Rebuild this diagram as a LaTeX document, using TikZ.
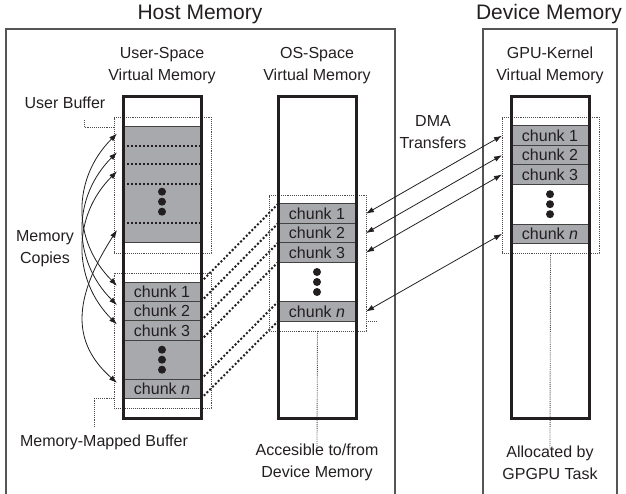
\documentclass[tikz,border=0pt]{standalone}
\usepackage{fontspec}
\setmainfont{Liberation Sans}
\usepackage{tikz}
\usetikzlibrary{arrows.meta,positioning,calc}
\definecolor{ink}{HTML}{231F20}
\definecolor{chunkgray}{HTML}{A7A9AC}
\definecolor{boxline}{HTML}{555555}

\begin{document}
\begin{tikzpicture}[x=1pt, y=-1pt, >=Latex,
  every node/.style={font=\fontsize{16}{22}\selectfont, text=ink},
  heading/.style={font=\fontsize{21}{26}\selectfont},
  note/.style={align=center, inner sep=2pt},
  region/.style={draw=boxline, line width=1.3pt},
  stack/.style={draw=ink, line width=3pt, minimum width=78pt, minimum height=321pt, inner sep=0pt},
  chunk/.style={draw=ink!85, fill=chunkgray, line width=1pt, minimum width=78pt, minimum height=19.4pt, inner sep=0pt, outer sep=0pt},
  filler/.style={draw=ink!85, fill=chunkgray, line width=1pt, minimum width=78pt, inner sep=0pt, outer sep=0pt},
  slot/.style={minimum width=78pt, inner sep=0pt, outer sep=0pt},
  zone/.style={draw=ink!80, line width=0.9pt, densely dotted, minimum width=97pt, minimum height=136pt, inner sep=0pt, outer sep=0pt},
  leader/.style={draw=ink!80, line width=0.9pt, densely dotted},
  mapline/.style={draw=ink, line width=2pt, dotted},
  rowline/.style={draw=ink, line width=2pt, dotted},
  xfer/.style={draw=ink, line width=0.8pt, {Latex[length=8pt,width=5.5pt]}-{Latex[length=8pt,width=5.5pt]}}]
\useasboundingbox (0,0) rectangle (626,494);

% host and device regions
\draw[region] (6,520) |- (395,29) -- (395,520);
\draw[region] (483,520) |- (617,29) -- (617,520);
\node[heading] (hostmem) at (200,14) {Host Memory};
\node[heading] (devmem) at (549,14) {Device Memory};

\node[note] (userhead) at (162,65.5) {User-Space\\Virtual Memory};
\node[note] (oshead) at (317,65.5) {OS-Space\\Virtual Memory};
\node[note] (gpuhead) at (550,65.5) {GPU-Kernel\\Virtual Memory};

% user buffer
\node[filler, minimum height=116pt, anchor=north] (ubuf) at (162,127) {};
\node[slot, minimum height=19pt] (ub1) at (162,136.5) {};
\node[slot, minimum height=18.5pt] (ub2) at (162,155.25) {};
\node[slot, minimum height=19.5pt] (ub3) at (162,174.25) {};
\node[slot, minimum height=20pt] (ubn) at (162,233) {};
\foreach \r in {ub1,ub2,ub3} \draw[rowline] (\r.south west) -- (\r.south east);
\draw[rowline] (ubn.north west) -- (ubn.north east);
\foreach \d in {191.7,201.7,211.7} \fill[ink] (162,\d) circle (4);

% memory-mapped buffer
\node[chunk, anchor=north] (uc1) at (162,282) {chunk 1};
\node[chunk, below=0pt of uc1] (uc2) {chunk 2};
\node[chunk, below=0pt of uc2] (uc3) {chunk 3};
\node[filler, minimum height=39pt, below=0pt of uc3] (ugap) {};
\node[chunk, below=0pt of ugap] (ucn) {chunk \textit{n}};

% os-space chunks
\node[chunk, anchor=north] (oc1) at (317,204) {chunk 1};
\node[chunk, below=0pt of oc1] (oc2) {chunk 2};
\node[chunk, below=0pt of oc2] (oc3) {chunk 3};
\node[slot, minimum height=39.6pt, below=0pt of oc3] (ogap) {};
\node[chunk, below=0pt of ogap] (ocn) {chunk \textit{n}};

% gpu-kernel chunks
\node[chunk, anchor=north] (gc1) at (550,126) {chunk 1};
\node[chunk, below=0pt of gc1] (gc2) {chunk 2};
\node[chunk, below=0pt of gc2] (gc3) {chunk 3};
\node[slot, minimum height=40pt, below=0pt of gc3] (ggap) {};
\node[chunk, below=0pt of ggap] (gcn) {chunk \textit{n}};

\foreach \g in {ugap,ogap,ggap}
  \foreach \d in {-10,0,10} \fill[ink] ($(\g)+(0,\d)$) circle (4);

% mapping user -> os
\draw[mapline] (uc1.north east) -- (oc1.north west);
\draw[mapline] (uc2.north east) -- (oc2.north west);
\draw[mapline] (uc3.north east) -- (oc3.north west);
\draw[mapline] (uc3.south east) -- (oc3.south west);
\draw[mapline] (ucn.north east) -- (ocn.north west);
\draw[mapline] (ucn.south east) -- (ocn.south west);

% dotted frames and leaders
\node[zone] (ubframe) at (162.5,185) {};
\node[zone, minimum height=135pt] (mmframe) at (162.5,340.5) {};
\node[zone] (osframe) at (317.5,263) {};
\node[zone] (gpuframe) at (550.5,185) {};

\node[note] (ubtext) at (65,103) {User Buffer};
\coordinate (ubbend) at (84,120);
\draw[leader] (ubbend) |- (ubframe.west |- ubuf.north);
\node[note] (mmtext) at (104,442) {Memory-Mapped Buffer};
\coordinate (mmbend) at (94,428);
\draw[leader] (mmframe.west |- ucn.south) -| (mmbend);
\node[note] (ostext) at (317,462.5) {Accesible to/from\\Device Memory};
\draw[leader, shorten >=-6pt] (osframe.south) -- (ostext.north);
\draw[leader] (osframe.east |- ocn.south) -- ++(11,0);
\node[note] (gputext) at (550,462.5) {Allocated by\\GPGPU Task};
\draw[leader, shorten >=-6pt] (gpuframe.south) -- (gputext.north);

% columns
\node[stack] (ucol) at (162,257.5) {};
\node[stack] (ocol) at (317,257.5) {};
\node[stack] (gcol) at (550,257.5) {};

% memory copies
\node[note] (copytext) at (45,249) {Memory\\Copies};
\foreach \r/\c/\k in {ub1/uc1/1, ub2/uc2/2, ub3/uc3/3, ubn/ucn/n} {
  \coordinate (cpa\k) at ($(\r.west)+(-6,-3)$);
  \coordinate (cpb\k) at ($(\c.west)+(-6,-6)$);
}
\draw[xfer] (cpa1) .. controls ($(cpa1)+(-45,45)$) and ($(cpb1)+(-45,-45)$) .. (cpb1);
\draw[xfer] (cpa2) .. controls ($(cpa2)+(-45,45)$) and ($(cpb2)+(-45,-45)$) .. (cpb2);
\draw[xfer] (cpa3) .. controls ($(cpa3)+(-45,45)$) and ($(cpb3)+(-45,-45)$) .. (cpb3);
\draw[xfer] (cpan) .. controls ($(cpan)+(-45,70)$) and ($(cpbn)+(-45,-40)$) .. (cpbn);

% dma transfers
\node[note] (dmatext) at (433,132.5) {DMA\\Transfers};
\foreach \k in {1,2,3,n}
  \draw[xfer] (oc\k -| osframe.east) -- (gc\k -| gpuframe.west);
\end{tikzpicture}
\end{document}
